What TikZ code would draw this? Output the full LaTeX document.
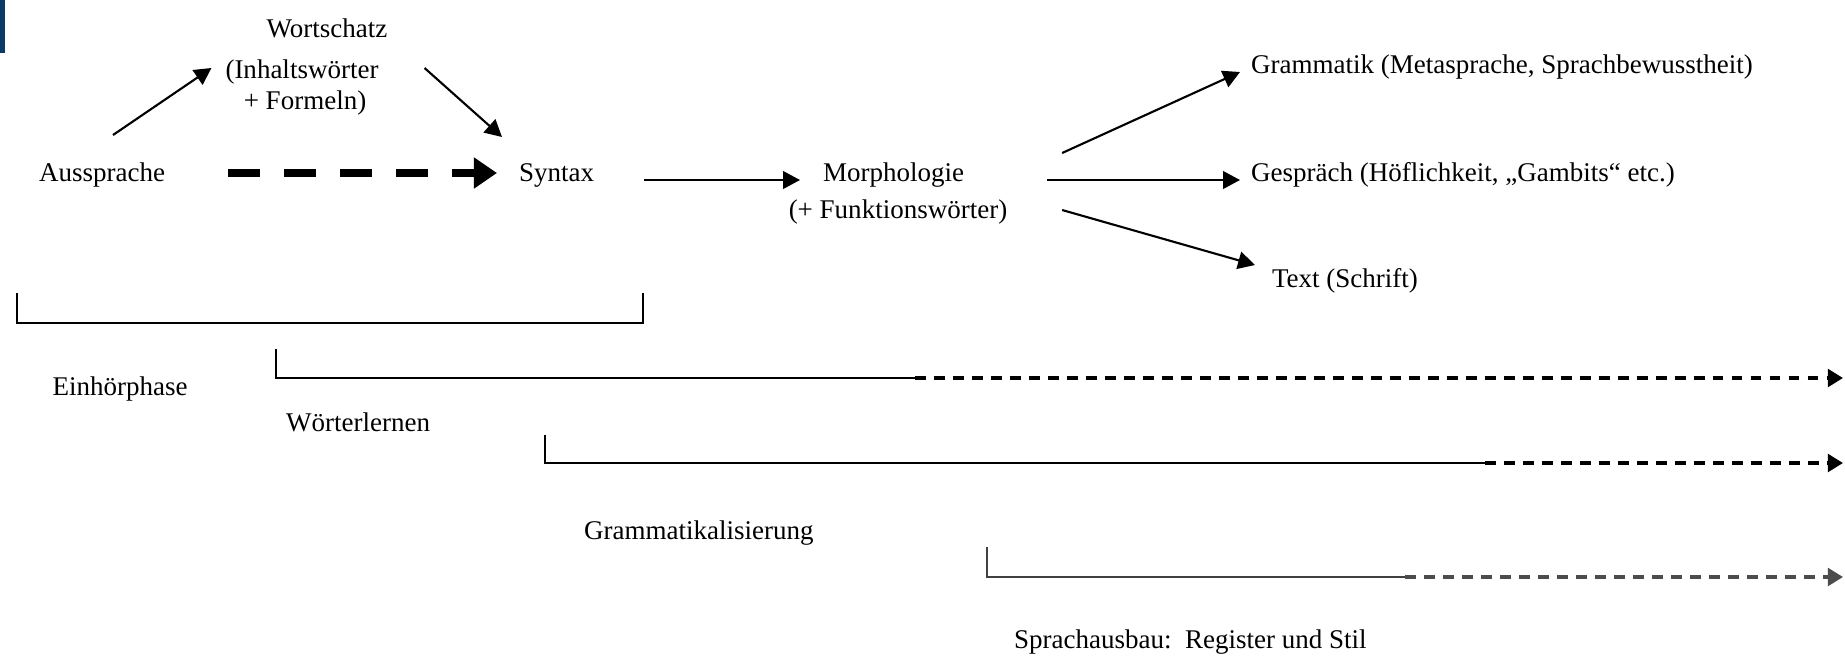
\documentclass[tikz,border=0pt]{standalone}
\usepackage{fontspec}
\setmainfont{Liberation Serif}
\usetikzlibrary{arrows.meta}

\definecolor{edgeBlue}{RGB}{10,58,104}
\def\diagramFont{\fontsize{7.68pt}{9pt}\selectfont}

\begin{document}
\begin{tikzpicture}[x=0.01cm, y=-0.01cm, line width=0.6pt,
		lbl/.style={font=\diagramFont, inner sep=0pt},
		arr/.style={-{Triangle[length=4.8pt,width=5pt]}},
		thickdash/.style={line width=2pt, dash pattern=on 9.1pt off 6.8pt, -{Triangle[length=6.6pt,width=8.5pt]}},
		phase/.style={line width=0.6pt},
		phasedash/.style={line width=1pt, dash pattern=on 3.1pt off 2.3pt, -{Triangle[length=4.3pt,width=5pt]}}]
		\useasboundingbox (0,0) rectangle (1845,657);
		\fill[edgeBlue] (0,0) rectangle (5,53);
		
		% first steps
		\node[lbl, anchor=base] (aus) at (102,181) {Aussprache};
		\node[lbl, anchor=base] (wort) at (327,37) {Wortschatz};
		\node[lbl, anchor=base] (inhalt) at (302,78) {(Inhaltswörter};
		\node[lbl, anchor=base] (formeln) at (305,109) {+ Formeln)};
		\node[lbl, anchor=base west] (syntax) at (518,181) {Syntax};
		\node[lbl, anchor=base west] (morph) at (822,181) {Morphologie};
		\node[lbl, anchor=base] (funkt) at (898,218) {(+ Funktionswörter)};
		
		\draw[arr] ([shift={(11,-46)}]aus.base) -- ([shift={(-13,-10)}]inhalt.base west);
		\draw[arr] ([shift={(45,-10)}]inhalt.base east) -- ([shift={(-16,-44)}]syntax.base west);
		\draw[thickdash] ([shift={(62,-8)}]aus.base east) -- ([shift={(-21,-8)}]syntax.base west);
		\draw[arr] ([shift={(49,-1)}]syntax.base east) -- ([shift={(-22,-1)}]morph.base west);
		
		% branches
		\node[lbl, anchor=base west] (gram) at (1250,73) {Grammatik (Metasprache, Sprachbewusstheit)};
		\node[lbl, anchor=base west] (gesp) at (1250,181) {Gespräch (Höflichkeit, „Gambits“ etc.)};
		\node[lbl, anchor=base west] (schrift) at (1271,287) {Text (Schrift)};
		
		\draw[arr] ([shift={(97,-28)}]morph.base east) -- ([shift={(-10,-1)}]gram.base west);
		\draw[arr] ([shift={(82,-1)}]morph.base east) -- ([shift={(-10,-1)}]gesp.base west);
		\draw[arr] ([shift={(97,29)}]morph.base east) -- ([shift={(-16,-22)}]schrift.base west);
		
		% Einhoerphase
		\coordinate (e0) at (17,293);
		\coordinate (e1) at (17,323);
		\coordinate (e2) at (643,323);
		\coordinate (e3) at (643,293);
		\draw[phase] (e0) -- (e1) -- (e2) -- (e3);
		\node[lbl, anchor=base] (einh) at (120,395) {Einhörphase};
		
		% Woerterlernen
		\coordinate (w0) at (276,349);
		\coordinate (w1) at (276,378);
		\coordinate (w2) at (915,378);
		\coordinate (w3) at (1843,378);
		\draw[phase] (w0) -- (w1) -- (w2);
		\draw[phasedash] (w2) -- (w3);
		\node[lbl, anchor=base west] (woert) at (285,431) {Wörterlernen};
		
		% Grammatikalisierung
		\coordinate (g0) at (545,435);
		\coordinate (g1) at (545,463);
		\coordinate (g2) at (1485,463);
		\coordinate (g3) at (1843,463);
		\draw[phase] (g0) -- (g1) -- (g2);
		\draw[phasedash] (g2) -- (g3);
		\node[lbl, anchor=base west] (gramm) at (583,539) {Grammatikalisierung};
		
		% Sprachausbau
		\coordinate (s0) at (987,547);
		\coordinate (s1) at (987,577);
		\coordinate (s2) at (1405,577);
		\coordinate (s3) at (1843,577);
		\draw[phase, black!75] (s0) -- (s1) -- (s2);
		\draw[phasedash, black!70] (s2) -- (s3);
		\node[lbl, anchor=base west] (ausbau) at (1013,648) {Sprachausbau:\ \ Register und Stil};
\end{tikzpicture}
\end{document}
